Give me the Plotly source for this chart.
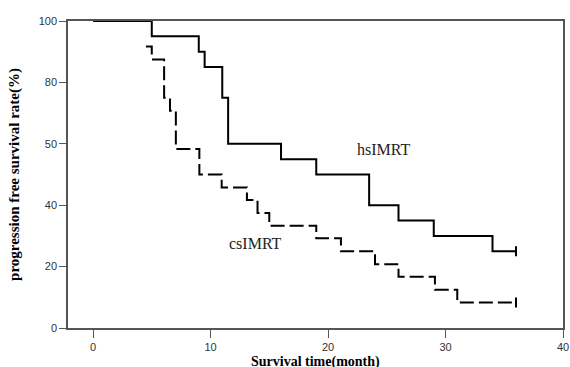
import plotly.graph_objects as go

# hsIMRT (solid) Kaplan-Meier steps
hs_time = [0, 5, 9, 9.5, 11, 11.5, 16, 19, 23.5, 26, 29, 34, 36]
hs_surv = [100, 95, 90, 85, 75, 60, 55, 50, 40, 35, 30, 25, 25]

# csIMRT (dashed) Kaplan-Meier steps
cs_time = [4.5, 5, 6.05, 6.55, 7.05, 9.05, 10.95, 13.1, 14.0, 15.0, 19.0, 21.1, 24.0, 26.0, 29.1, 31.0, 36]
cs_surv = [91.7, 87.5, 75.0, 70.8, 58.3, 50.0, 45.8, 41.7, 37.5, 33.3, 29.2, 25.0, 20.8, 16.7, 12.5, 8.3, 8.3]

x_ticks = [0, 10, 20, 30, 40]
y_ticks = [0, 20, 40, 60, 80, 100]
y_ticktext = ["0", "20", "40", "50", "80", "100"]

fig = go.Figure()
fig.add_trace(go.Scatter(x=hs_time, y=hs_surv, mode="lines", line=dict(shape="hv", color="black", width=2),
                         showlegend=False))
fig.add_trace(go.Scatter(x=cs_time, y=cs_surv, mode="lines", line=dict(shape="hv", color="black", width=2, dash="14px,5px"),
                         showlegend=False))
# censor marks
fig.add_trace(go.Scatter(x=[hs_time[-1], cs_time[-1]], y=[hs_surv[-1], cs_surv[-1]], mode="markers",
                         marker=dict(symbol="line-ns-open", size=7, color="black", line=dict(color="black", width=2)),
                         showlegend=False))

fig.add_annotation(x=24.7, y=58, text="hsIMRT", showarrow=False,
                   font=dict(family="Liberation Serif", size=16, color="#222"))
fig.add_annotation(x=13.8, y=27.4, text="csIMRT", showarrow=False,
                   font=dict(family="Liberation Serif", size=16, color="#222"))
# x-axis title
fig.add_annotation(x=0.5, xref="paper", y=-0.11, yref="paper", yanchor="middle", xanchor="center",
                   text="<b>Survival time(month)</b>", showarrow=False,
                   font=dict(family="Liberation Serif", size=14, color="black"))

fig.update_layout(
    width=570, height=367,
    margin=dict(l=68, r=7, t=21, b=39),
    plot_bgcolor="white", paper_bgcolor="white",
    xaxis=dict(range=[-2.13, 40], tickvals=x_ticks, ticks="outside", ticklen=8, tickcolor="#555",
               showgrid=False, zeroline=False, showline=True, linecolor="#555", linewidth=1.5, mirror=True,
               automargin=False,
               tickfont=dict(family="Liberation Sans", size=11, color="#333")),
    yaxis=dict(range=[0, 100], tickvals=y_ticks, ticktext=y_ticktext, ticks="outside", ticklen=7, tickcolor="#555",
               showgrid=False, zeroline=False, showline=True, linecolor="#555", linewidth=1.5, mirror=True,
               automargin=False,
               tickfont=dict(family="Liberation Sans", size=11, color="#333"),
               title=dict(text="<b>progression free survival rate(%)</b>",
                          font=dict(family="Liberation Serif", size=15, color="black"))),
)
fig.write_html("out.html", config={"displayModeBar": False})

# remove the default page margin so the figure sits at the window's top-left corner
with open("out.html", "r", encoding="utf-8") as f:
    html = f.read()
html = html.replace("<head>", "<head><style>html,body{margin:0;padding:0;overflow:hidden;}</style>", 1)
with open("out.html", "w", encoding="utf-8") as f:
    f.write(html)
